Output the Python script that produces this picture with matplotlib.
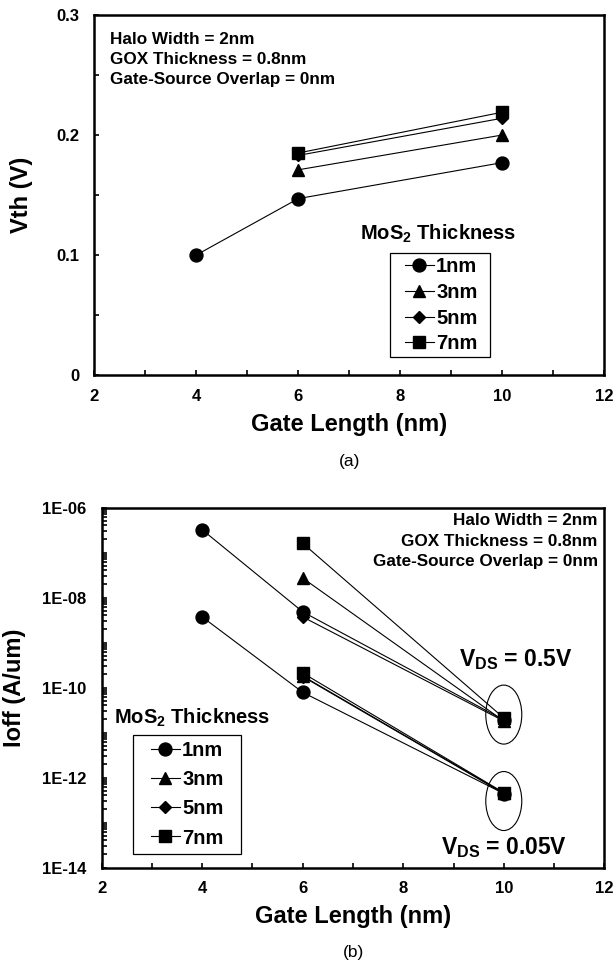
import matplotlib
matplotlib.use('Agg')
import matplotlib.pyplot as plt
import matplotlib.transforms as mtransforms
from matplotlib.patches import Ellipse, Rectangle
from matplotlib.ticker import MultipleLocator, LogLocator, NullFormatter
import numpy as np

plt.rcParams['font.family'] = ['Liberation Sans', 'DejaVu Sans']
plt.rcParams['font.weight'] = 'bold'
plt.rcParams['axes.labelweight'] = 'bold'
plt.rcParams['mathtext.fontset'] = 'custom'
plt.rcParams['mathtext.rm'] = 'Liberation Sans:bold'
plt.rcParams['mathtext.it'] = 'Liberation Sans:bold'
plt.rcParams['mathtext.bf'] = 'Liberation Sans:bold'

# ---- data ----
thickness = ['1nm', '3nm', '5nm', '7nm']
gate_len_1nm = [4, 6, 10]
gate_len = [6, 10]

# (a) threshold voltage (V)
vth_1nm = [0.100, 0.147, 0.177]
vth_3nm = [0.171, 0.200]
vth_5nm = [0.183, 0.214]
vth_7nm = [0.185, 0.219]

# (b) off current (A/um), VDS = 0.5 V
ioff_hi_1nm = [3.2e-7, 4.8e-9, 1.9e-11]
ioff_hi_3nm = [2.7e-8, 1.8e-11]
ioff_hi_5nm = [3.7e-9, 1.8e-11]
ioff_hi_7nm = [1.6e-7, 2.1e-11]
# VDS = 0.05 V
ioff_lo_1nm = [3.7e-9, 7.8e-11, 4.4e-13]
ioff_lo_3nm = [1.8e-10, 4.5e-13]
ioff_lo_5nm = [1.75e-10, 4.4e-13]
ioff_lo_7nm = [2.1e-10, 4.6e-13]

vth_ticks = [0, 0.1, 0.2, 0.3]
vth_ticklabels = ['0', '0.1', '0.2', '0.3']
gl_ticks = [2, 4, 6, 8, 10, 12]
ioff_ticks = [1e-14, 1e-13, 1e-12, 1e-11, 1e-10, 1e-9, 1e-8, 1e-7, 1e-6]
ioff_ticklabels = ['1E-14', '', '1E-12', '', '1E-10', '', '1E-08', '', '1E-06']

conditions = ['Halo Width = 2nm', 'GOX Thickness = 0.8nm', 'Gate-Source Overlap = 0nm']

xs = [gate_len_1nm, gate_len, gate_len, gate_len]
vth_all = [vth_1nm, vth_3nm, vth_5nm, vth_7nm]
ioff_hi = [ioff_hi_1nm, ioff_hi_3nm, ioff_hi_5nm, ioff_hi_7nm]
ioff_lo = [ioff_lo_1nm, ioff_lo_3nm, ioff_lo_5nm, ioff_lo_7nm]

markers = ['o', '^', 'D', 's']
msizes = [9.3, 9.0, 6.4, 8.8]

fig = plt.figure(figsize=(6.16, 9.64), dpi=100)
W, H = 616.0, 964.0
ax1 = fig.add_axes([94.3 / W, 1 - 375 / H, 510 / W, 360 / H])
ax2 = fig.add_axes([101.7 / W, 1 - 867.5 / H, 502.6 / W, 360 / H])


def style_axes(ax):
    for s in ax.spines.values():
        s.set_linewidth(1.8)
        s.set_color('black')
    ax.tick_params(which='both', direction='in', length=3.5, width=1.2,
                   labelsize=12, top=False, right=False)
    ax.tick_params(axis='x', pad=10)
    ax.tick_params(axis='y', pad=11)
    ax.set_xlim(2, 12)
    ax.set_xticks(gl_ticks)
    ax.xaxis.set_minor_locator(MultipleLocator(1))
    ax.set_xlabel('Gate Length (nm)', fontsize=17, fontweight='bold', va='top')
    ax.xaxis.set_label_coords(0.5, -0.105)


def ring(ax, x, y, w, h):
    trans = fig.dpi_scale_trans + mtransforms.ScaledTranslation(x, y, ax.transData)
    ax.add_artist(Ellipse((0, 0), w / 100, h / 100, transform=trans,
                          fill=False, ec='black', lw=0.8))


# ---------- (a) ----------
for i in range(4):
    ax1.plot(xs[i], vth_all[i], color='black', lw=0.8, marker=markers[i],
             ms=msizes[i], mfc='black', mec='black', label=thickness[i])
style_axes(ax1)
ax1.set_ylim(0, 0.3)
ax1.set_yticks(vth_ticks)
ax1.set_yticklabels(vth_ticklabels)
ax1.yaxis.set_minor_locator(MultipleLocator(0.05))
ax1.set_ylabel('Vth (V)', fontsize=17, fontweight='bold')
ax1.yaxis.set_label_coords(-0.12, 0.5)

for k, line in enumerate(conditions):
    ax1.text(0.031, 0.932 - k * 0.0555, line, transform=ax1.transAxes,
             fontsize=12.3, ha='left', va='center')

ax1.text(0.674, 0.392, r'MoS$_2$ Thickness', transform=ax1.transAxes,
         fontsize=14.5, ha='center', va='center')
ax1.add_patch(Rectangle((0.580, 0.049), 0.196, 0.289, transform=ax1.transAxes,
                        fill=False, ec='black', lw=0.9))
ax1.legend(loc='center', bbox_to_anchor=(0.680, 0.1935), frameon=False,
           prop={'size': 14.5, 'weight': 'bold'}, handlelength=1.45,
           handletextpad=0.1, labelspacing=0.33, borderpad=0, borderaxespad=0)

# ---------- (b) ----------
handles = []
for i in range(4):
    h, = ax2.plot(xs[i], ioff_hi[i], color='black', lw=0.8, marker=markers[i],
                  ms=msizes[i], mfc='black', mec='black', label=thickness[i])
    ax2.plot(xs[i], ioff_lo[i], color='black', lw=0.8, marker=markers[i],
             ms=msizes[i], mfc='black', mec='black')
    handles.append(h)
ax2.set_yscale('log')
style_axes(ax2)
ax2.set_ylim(1e-14, 1e-6)
ax2.set_yticks(ioff_ticks)
ax2.set_yticklabels(ioff_ticklabels)
ax2.yaxis.set_minor_locator(LogLocator(base=10, subs=np.arange(2, 10), numticks=20))
ax2.yaxis.set_minor_formatter(NullFormatter())
ax2.set_ylabel('Ioff (A/um)', fontsize=17, fontweight='bold')
ax2.yaxis.set_label_coords(-0.15, 0.5)

for k, line in enumerate(conditions):
    ax2.text(0.987, 0.963 - k * 0.0565, line, transform=ax2.transAxes,
             fontsize=12.3, ha='right', va='center')

ax2.text(0.18, 0.417, r'MoS$_2$ Thickness', transform=ax2.transAxes,
         fontsize=14.5, ha='center', va='center')
ax2.add_patch(Rectangle((0.0629, 0.0375), 0.2137, 0.3305, transform=ax2.transAxes,
                        fill=False, ec='black', lw=0.9))
ax2.legend(handles=handles, loc='center', bbox_to_anchor=(0.170, 0.203), frameon=False,
           prop={'size': 14.5, 'weight': 'bold'}, handlelength=1.45,
           handletextpad=0.1, labelspacing=0.5, borderpad=0, borderaxespad=0)

ring(ax2, 10, 2.5e-11, 36, 59)
ring(ax2, 10, 3.0e-13, 36, 59)
ax2.text(0.823, 0.5606, r'V$_{DS}$ = 0.5V', transform=ax2.transAxes,
         fontsize=16.5, ha='center', va='baseline')
ax2.text(0.800, 0.0375, r'V$_{DS}$ = 0.05V', transform=ax2.transAxes,
         fontsize=16.5, ha='center', va='baseline')

fig.text((94.3 + 255) / W, 1 - 461 / H, '(a)', fontsize=12.5, fontweight='normal',
         ha='center', va='center')
fig.text((101.7 + 251.3) / W, 1 - 952 / H, '(b)', fontsize=12.5, fontweight='normal',
         ha='center', va='center')

fig.savefig('out.png', dpi=100)
